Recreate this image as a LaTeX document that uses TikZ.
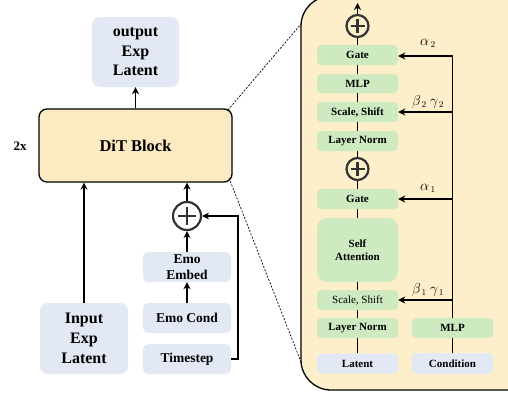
\documentclass[tikz,border=0pt]{standalone}
\usepackage{fontspec}
\setmainfont{Liberation Serif}
\usetikzlibrary{arrows.meta}
\definecolor{latblue}{HTML}{E3E8F5}
\definecolor{blkyellow}{HTML}{FCEBC2}
\definecolor{panyellow}{HTML}{FDEFCA}
\definecolor{opgreen}{HTML}{CDEAC0}
\definecolor{plusgray}{HTML}{333333}

\begin{document}
\begin{tikzpicture}[x=1pt, y=-1pt,
  lat/.style={fill=latblue, rounded corners=8pt, align=center, inner sep=0pt},
  op/.style={fill=opgreen, rounded corners=4pt, minimum width=81pt, minimum height=20pt, inner sep=0pt, font=\fontsize{11}{13}\selectfont\bfseries},
  plusop/.style={circle, draw=plusgray, line width=2.2pt, minimum size=#1, inner sep=0pt},
  plusline/.style={plusgray, line width=2.2pt},
  flow/.style={line width=1.6pt, -{Stealth[length=7pt,width=7pt]}},
  link/.style={line width=1.6pt},
  zoomline/.style={line width=0.7pt, dash pattern=on 2pt off 1.5pt}]
\useasboundingbox (0,0) rectangle (508,394);
\clip (0,0) rectangle (508,394);

% left part
\node[lat, minimum width=87pt, minimum height=70pt, font=\fontsize{16}{19.5}\selectfont\bfseries] (outlat) at (135.5,52) {output\\Exp\\Latent};
\node[draw, line width=1.3pt, fill=blkyellow, rounded corners=8pt, minimum width=193pt, minimum height=73pt, font=\fontsize{16.5}{19}\selectfont\bfseries] (dit) at (135.5,145.5) {DiT Block};
\node[font=\fontsize{13}{15}\selectfont\bfseries] (twox) at (20,146) {2x};
\node[lat, minimum width=88pt, minimum height=71pt, font=\fontsize{16}{20}\selectfont\bfseries] (inlat) at (84,338.5) {Input\\Exp\\Latent};
\node[lat, rounded corners=5pt, minimum width=88pt, minimum height=30pt, font=\fontsize{13.5}{16}\selectfont\bfseries] (emoemb) at (187,267) {Emo\\Embed};
\node[lat, rounded corners=5pt, minimum width=88pt, minimum height=30pt, font=\fontsize{13.5}{16}\selectfont\bfseries] (emocond) at (187,318) {Emo Cond};
\node[lat, rounded corners=5pt, minimum width=88pt, minimum height=30pt, font=\fontsize{13.5}{16}\selectfont\bfseries] (tstep) at (187,359) {Timestep};
\node[plusop=28pt] (plusA) at (187,216) {};
\draw[plusline] (plusA.center) +(-9,0) -- +(9,0) (plusA.center) +(0,-9) -- +(0,9);

\draw[flow] (dit.north) -- (outlat.south);
\draw[flow] (inlat.north) -- (inlat.north |- dit.south);
\draw[flow] (emocond.north) -- (emoemb.south);
\draw[flow] (emoemb.north) -- (plusA.south);
\draw[flow] (plusA.north) -- (plusA.north |- dit.south);
\draw[flow] (tstep.east) -- ++(7,0) |- (plusA.east);

% zoomed block
\draw[line width=1.3pt, fill=panyellow, rounded corners=30pt] (301,-4) rectangle (540,390);
\coordinate (zoomtop) at (301,24);
\coordinate (zoombot) at (301,362);
\draw[zoomline] (228,110) -- (zoomtop);
\draw[zoomline] (229,178) -- (zoombot);

\node[op, fill=latblue] (latent) at (357.5,363.5) {Latent};
\node[op] (ln1) at (357.5,328) {Layer Norm};
\node[op, font=\fontsize{11}{13}\selectfont] (ss1) at (357.5,300) {Scale, Shift};
\node[op, rounded corners=10pt, minimum height=64pt, align=center, font=\fontsize{11}{13.3}\selectfont\bfseries] (attn) at (357.5,250) {Self\\Attention};
\node[op] (gate1) at (357.5,199) {Gate};
\node[plusop=22pt] (plusB) at (357.5,169) {};
\node[op] (ln2) at (357.5,141) {Layer Norm};
\node[op] (ss2) at (357.5,112) {Scale, Shift};
\node[op, minimum height=19pt] (mlp2) at (357.5,83.5) {MLP};
\node[op] (gate2) at (357.5,55) {Gate};
\node[plusop=22pt] (plusC) at (357.5,26) {};
\coordinate (outtop) at (357.5,3);
\draw[plusline] (plusB.center) +(-7,0) -- +(7,0) (plusB.center) +(0,-7) -- +(0,7);
\draw[plusline] (plusC.center) +(-7,0) -- +(7,0) (plusC.center) +(0,-7) -- +(0,7);

\foreach \a/\b in {latent/ln1, ln1/ss1, ss1/attn, attn/gate1, gate1/plusB, plusB/ln2, ln2/ss2, ss2/mlp2, mlp2/gate2, gate2/plusC}
  \draw[link] (\a.north) -- (\b.south);
\draw[flow] (plusC.north) -- (outtop);

\node[op, fill=latblue, minimum height=21pt] (cond) at (452.5,363.5) {Condition};
\node[op] (mlpc) at (452.5,328) {MLP};
\coordinate (cortop) at (452.5,56);
\draw[link] (cond.north) -- (mlpc.south);
\draw[link] (mlpc.north) -- (cortop);
\draw[flow] (cortop) -- (gate2.east |- cortop);
\draw[flow] (mlpc.north |- ss2.east) -- (ss2.east);
\draw[flow] (mlpc.north |- gate1.east) -- (gate1.east);
\draw[flow] (mlpc.north |- ss1.east) -- (ss1.east);

\node[font=\fontsize{13.5}{15}\selectfont] (alpha2) at (428,43) {$\alpha_{\,2}$};
\node[font=\fontsize{13.5}{15}\selectfont] (betagamma2) at (428,102) {$\beta_{\,2}\ \gamma_{\,2}$};
\node[font=\fontsize{13.5}{15}\selectfont] (alpha1) at (428,188) {$\alpha_{\,1}$};
\node[font=\fontsize{13.5}{15}\selectfont] (betagamma1) at (428,290) {$\beta_{\,1}\ \gamma_{\,1}$};
\end{tikzpicture}
\end{document}
